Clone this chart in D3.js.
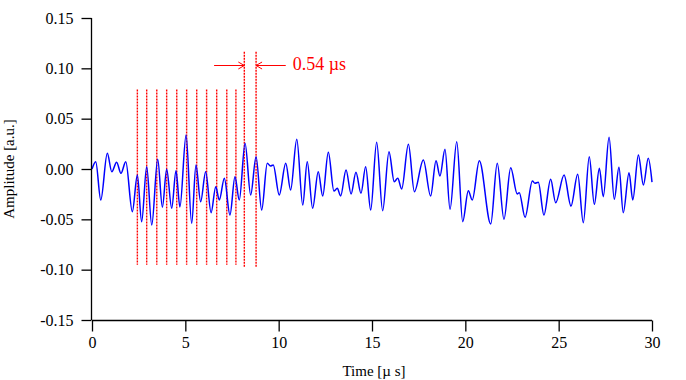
<!DOCTYPE html>
<html>
<head>
<meta charset="utf-8">
<script src="https://cdn.jsdelivr.net/npm/d3@7"></script>
<style>
  html, body { margin: 0; padding: 0; background: #fff; }
  svg { display: block; }
  text { font-family: "Liberation Serif", "Times New Roman", serif; }
</style>
</head>
<body>
<svg id="chart" width="686" height="380"></svg>
<script>
// ---- data ----
const times = [0.00,0.20,0.47,0.82,1.06,1.32,1.55,1.81,2.16,2.43,2.66,2.93,3.20,3.52,3.77,4.00,4.27,4.50,4.71,5.04,
  5.34,5.57,5.82,6.09,6.38,6.63,6.82,7.09,7.39,7.66,7.89,8.20,8.50,8.79,9.09,9.39,9.56,9.71,10.03,10.38,
  10.64,10.97,11.29,11.53,11.82,12.12,12.36,12.66,12.96,13.14,13.32,13.61,13.88,14.14,14.41,14.66,14.93,15.25,15.57,15.91,
  16.19,16.38,16.59,16.95,17.27,17.75,18.14,18.43,18.64,18.91,19.18,19.54,19.86,20.16,20.37,20.75,21.36,21.71,22.07,22.43,
  22.78,22.89,23.20,23.59,23.73,23.91,24.21,24.57,24.84,25.29,25.66,26.02,26.32,26.64,26.91,27.18,27.39,27.70,27.98,28.23,
  28.46,28.77,28.97,29.27,29.54,29.80,30.00];
const amplitude = [0.0000,0.0073,-0.0308,0.0156,-0.0027,0.0067,-0.0043,0.0073,-0.0424,-0.0060,-0.0523,0.0023,-0.0556,0.0096,-0.0380,-0.0003,-0.0390,-0.0017,-0.0377,0.0338,
  -0.0539,0.0040,-0.0325,-0.0027,-0.0434,-0.0176,-0.0308,-0.0092,-0.0457,-0.0076,-0.0308,0.0255,-0.0258,0.0122,-0.0407,0.0057,0.0030,0.0040,-0.0258,0.0057,
  -0.0209,0.0295,-0.0358,0.0073,-0.0390,-0.0027,-0.0268,0.0166,-0.0219,-0.0192,-0.0268,-0.0010,-0.0248,-0.0033,-0.0241,0.0023,-0.0407,0.0265,-0.0414,0.0172,
  -0.0126,-0.0092,-0.0199,0.0245,-0.0225,0.0089,-0.0268,0.0082,-0.0070,0.0196,-0.0400,0.0271,-0.0523,-0.0216,-0.0308,0.0082,-0.0546,0.0057,-0.0500,0.0013,
  -0.0248,-0.0235,-0.0480,-0.0119,-0.0142,-0.0132,-0.0457,-0.0102,-0.0335,-0.0060,-0.0368,-0.0053,-0.0533,0.0122,-0.0351,0.0007,-0.0275,0.0315,-0.0301,0.0017,
  -0.0434,-0.0037,-0.0308,0.0139,-0.0159,0.0106,-0.0130];

const shortMarkers = [2.43,2.93,3.47,4.00,4.54,5.07,5.61,6.14,6.68,7.22,7.71];
const shortMarkerRange = [-0.095, 0.079];
const tallMarkers = [8.16,8.79];
const tallMarkerRange = [-0.097, 0.1165];
const arrowLevel = 0.1033;
const arrowLeftStart = 6.54;
const arrowRightStart = 10.38;
const annotationText = "0.54 \u00b5s";
const annotationPos = [10.75, 0.098];

const xTicks = [0,5,10,15,20,25,30];
const xTickLabels = ["0","5","10","15","20","25","30"];
const yTicks = [0.15,0.10,0.05,0.00,-0.05,-0.10,-0.15];
const yTickLabels = ["0.15","0.10","0.05","0.00","-0.05","-0.10","-0.15"];
const xTitle = "Time [\u00b5 s]";
const yTitle = "Amplitude [a.u.]";

// ---- drawing ----
const svg = d3.select("#chart");
const x = d3.scaleLinear().domain([0, 30]).range([92, 652]);
const y = d3.scaleLinear().domain([-0.15, 0.15]).range([320, 18]);

// red markers
const red = "#ff0000";
function markers(list, range) {
  svg.append("g").selectAll("line").data(list).join("line")
    .attr("x1", d => x(d)).attr("x2", d => x(d))
    .attr("y1", y(range[1])).attr("y2", y(range[0]))
    .attr("stroke", red).attr("stroke-width", 1.4).attr("stroke-dasharray", "2,1");
}
markers(shortMarkers, shortMarkerRange);
markers(tallMarkers, tallMarkerRange);

// arrows
const ay = Math.round(y(arrowLevel)) + 0.5;
const xl = x(tallMarkers[0]);
const xr = x(tallMarkers[1]);
const ag = svg.append("g").attr("stroke", red).attr("fill", "none").attr("stroke-width", 1);
ag.append("line").attr("x1", x(arrowLeftStart)).attr("x2", xl).attr("y1", ay).attr("y2", ay);
ag.append("path").attr("d", `M${xl-6},${ay-3.5}L${xl},${ay}L${xl-6},${ay+3.5}`);
ag.append("line").attr("x1", x(arrowRightStart)).attr("x2", xr).attr("y1", ay).attr("y2", ay);
ag.append("path").attr("d", `M${xr+6},${ay-3.5}L${xr},${ay}L${xr+6},${ay+3.5}`);
svg.append("text").attr("x", x(annotationPos[0])).attr("y", y(annotationPos[1]))
  .attr("fill", red).attr("font-size", 18).text(annotationText);

// waveform
const pts = times.map((t, i) => [t, amplitude[i]]);
svg.append("path").datum(pts)
  .attr("fill", "none").attr("stroke", "#0000ff").attr("stroke-width", 1.5)
  .attr("d", d3.line().x(d => x(d[0])).y(d => y(d[1])).curve(d3.curveMonotoneX));

// axes
const xAxis = d3.axisBottom(x).tickValues(xTicks).tickFormat((d, i) => xTickLabels[i]).tickSize(11).tickPadding(5);
const gx = svg.append("g").attr("transform", "translate(0,320.5)").call(xAxis);
const yAxis = d3.axisLeft(y).tickValues(yTicks).tickFormat((d, i) => yTickLabels[i]).tickSize(10).tickPadding(8);
const gy = svg.append("g").attr("transform", "translate(91.5,0)").call(yAxis);
[gx, gy].forEach(g => {
  g.select(".domain").attr("stroke", "#000").attr("stroke-width", 1.3);
  g.selectAll(".tick line").attr("stroke", "#000").attr("stroke-width", 1.3);
  g.selectAll(".tick text").attr("fill", "#000").attr("font-size", 16)
    .attr("font-family", '"Liberation Serif", "Times New Roman", serif');
});
gx.select(".domain").attr("d", `M${x(0)},0H${x(30)}`);
gy.select(".domain").attr("d", `M0,${y(0.15)}V${y(-0.15)}`);

// titles
svg.append("text").attr("x", (x(0) + x(30)) / 2 + 2).attr("y", 376)
  .attr("text-anchor", "middle").attr("font-size", 15).attr("fill", "#000").text(xTitle);
svg.append("text").attr("transform", `translate(14,${(y(0.15)+y(-0.15))/2}) rotate(-90)`)
  .attr("text-anchor", "middle").attr("font-size", 15).attr("fill", "#000").text(yTitle);
</script>
</body>
</html>
